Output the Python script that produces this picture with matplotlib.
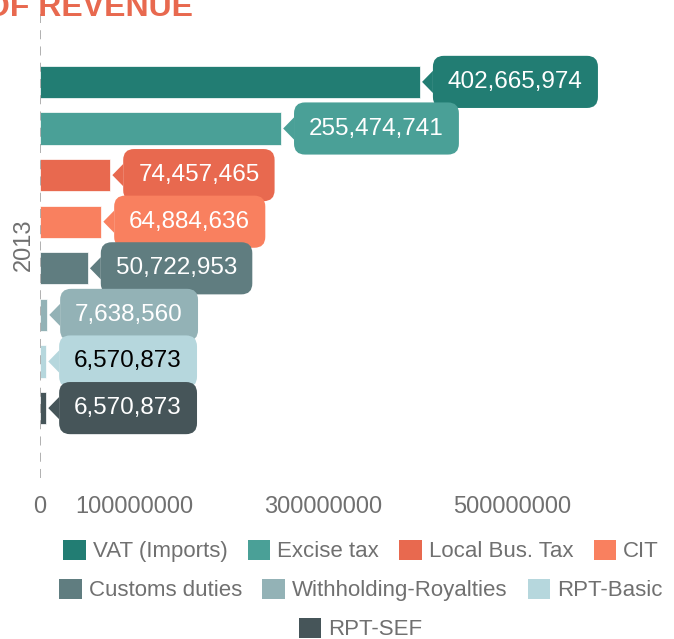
import matplotlib
matplotlib.use('Agg')
import matplotlib.pyplot as plt
from matplotlib.patches import Patch

plt.rcParams['font.family'] = ['Liberation Sans', 'DejaVu Sans']

# data
series = ['VAT (Imports)', 'Excise tax', 'Local Bus. Tax', 'CIT',
          'Customs duties', 'Withholding-Royalties', 'RPT-Basic', 'RPT-SEF']
values = [402665974, 255474741, 74457465, 64884636,
          50722953, 7638560, 6570873, 6570873]
colors = ['#227d73', '#4aa097', '#e8694f', '#f9805f',
          '#607d80', '#93b2b6', '#b6d7dd', '#465559']
label_colors = ['white', 'white', 'white', 'white',
                'white', 'white', 'black', 'white']
category = '2013'
x_ticks = [0, 100000000, 300000000, 500000000]

W, H = 674, 639
fig = plt.figure(figsize=(W / 100, H / 100), dpi=100)
ax = fig.add_axes([40 / W, (H - 478) / H, 620 / W, (478 - 12) / H])

pos = list(range(len(values)))
ax.barh(pos, values, height=0.69, color=colors, edgecolor='white', linewidth=0.5, zorder=2)
ax.set_ylim(8.5, -1.5)
ax.set_xlim(0, 620 / 0.9437 * 1e6)

# callout labels
for i, (v, c, tc) in enumerate(zip(values, colors, label_colors)):
    ax.annotate(f'{v:,}', xy=(v, i), xytext=(28, 0), textcoords='offset pixels',
                ha='left', va='center', fontsize=17.5, color=tc, zorder=3 + i,
                bbox=dict(boxstyle='round,pad=0.62,rounding_size=0.45', fc=c, ec='none'),
                arrowprops=dict(arrowstyle='wedge,tail_width=0.8,shrink_factor=0.5',
                                fc=c, ec='none', shrinkA=0, shrinkB=1.5,
                                mutation_scale=20))

ax.axvline(0, color='#aaaaaa', lw=1.3, ls=(0, (5, 4)), zorder=4)

for s in ax.spines.values():
    s.set_visible(False)
ax.set_xticks(x_ticks, [str(t) for t in x_ticks])
ax.set_yticks([3.5], [category], rotation=90, va='center')
ax.tick_params(axis='x', length=0, pad=13, labelsize=17, labelcolor='#707070')
ax.tick_params(axis='y', length=0, pad=4, labelsize=17, labelcolor='#707070')

# title (cut off at top)
fig.text(193 / W, (H - 16) / H, 'SOURCES OF REVENUE', ha='right', va='baseline',
         fontsize=23, fontweight='bold', color='#e8694f')

# legend rows
rows = [[0, 1, 2, 3], [4, 5, 6], [7]]
row_y = [551, 590, 629]
for r, yy in zip(rows, row_y):
    handles = [Patch(fc=colors[k], ec='none') for k in r]
    leg = fig.legend(handles, [series[k] for k in r], loc='center',
                     bbox_to_anchor=(361 / W, (H - yy) / H), ncol=len(r),
                     frameon=False, fontsize=16, handlelength=1.0, handleheight=1.0,
                     handletextpad=0.32, columnspacing=0.92, borderpad=0, borderaxespad=0)
    for t in leg.get_texts():
        t.set_color('#707070')

fig.savefig('out.png', dpi=100)
